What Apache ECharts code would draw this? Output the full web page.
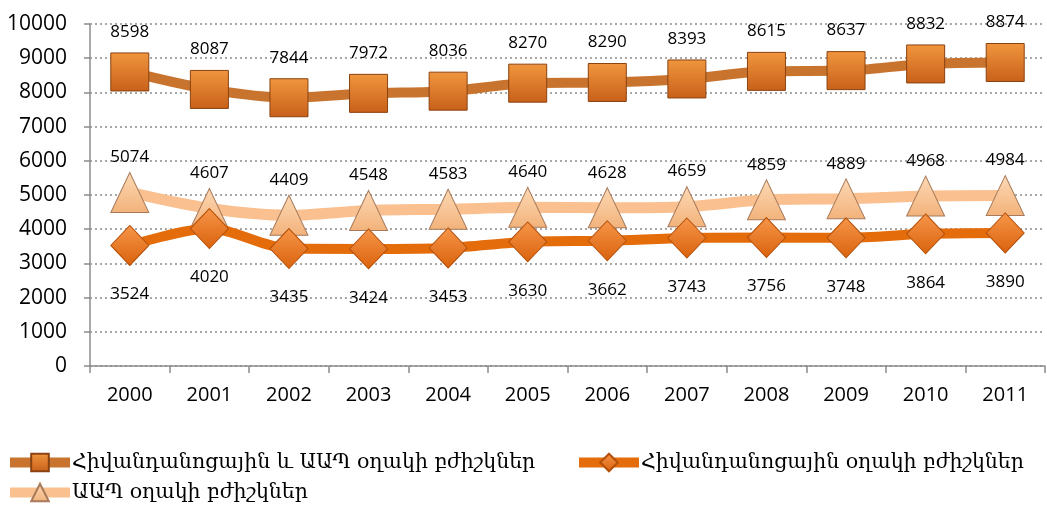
<!DOCTYPE html>
<html>
<head>
<meta charset="utf-8">
<script src="https://cdn.jsdelivr.net/npm/echarts@6/dist/echarts.min.js"></script>
<style>
  html, body { margin: 0; padding: 0; background: #fff; }
  #chart { width: 1047px; height: 506px; }
</style>
</head>
<body>
<div id="chart"></div>
<script>
// data
const years = ["2000", "2001", "2002", "2003", "2004", "2005", "2006", "2007", "2008", "2009", "2010", "2011"];
const totalDoctors = [8598, 8087, 7844, 7972, 8036, 8270, 8290, 8393, 8615, 8637, 8832, 8874];
const hospitalDoctors = [3524, 4020, 3435, 3424, 3453, 3630, 3662, 3743, 3756, 3748, 3864, 3890];
const clinicDoctors = [5074, 4607, 4409, 4548, 4583, 4640, 4628, 4659, 4859, 4889, 4968, 4984];

const names = [
  "Հիվանդանոցային և ԱԱՊ օղակի բժիշկներ",
  "Հիվանդանոցային օղակի բժիշկներ",
  "ԱԱՊ օղակի բժիշկներ"
];

const numFont = "'Open Sans', 'Liberation Sans', sans-serif";
const legendFont = "'DejaVu Serif', 'DejaVu Sans', serif";

function grad(top, bottom) {
  return new echarts.graphic.LinearGradient(0, 0, 0, 1, [
    { offset: 0, color: top },
    { offset: 1, color: bottom }
  ]);
}

function legendAt(name, left, top) {
  return {
    data: [name],
    left: left, top: top,
    padding: 0,
    itemWidth: 60, itemHeight: 22, itemGap: 0,
    lineStyle: { width: 10 },
    textStyle: { fontFamily: legendFont, fontSize: 20.5, color: "#000", padding: [0, 0, 0, -3] }
  };
}

const chart = echarts.init(document.getElementById("chart"));

chart.setOption({
  animation: false,
  grid: { left: 90, right: 2, top: 24, bottom: 140 },
  xAxis: {
    type: "category",
    data: years,
    axisLine: { lineStyle: { color: "#8c8c8c", width: 1.5 } },
    axisTick: { show: true, length: 7, lineStyle: { color: "#8c8c8c", width: 1.5 } },
    axisLabel: { color: "#000", fontSize: 20, fontFamily: numFont, margin: 19 }
  },
  yAxis: {
    type: "value",
    min: 0,
    max: 10000,
    interval: 1000,
    axisLine: { show: true, lineStyle: { color: "#8c8c8c", width: 1.5 } },
    axisTick: { show: true, length: 6, lineStyle: { color: "#8c8c8c", width: 1.5 } },
    axisLabel: { color: "#000", fontSize: 21, fontFamily: numFont, margin: 23, formatter: v => String(v) },
    splitLine: { lineStyle: { color: "#8c8c8c", type: [2, 3], width: 1.5 } }
  },
  legend: [
    legendAt(names[0], 5, 452),
    legendAt(names[1], 574, 452),
    legendAt(names[2], 5, 482)
  ],
  series: [
    {
      name: names[0],
      type: "line",
      data: totalDoctors,
      smooth: 0.3,
      symbol: "rect",
      symbolSize: 38,
      lineStyle: { color: "#C8742E", width: 10 },
      itemStyle: { color: grad("#F0963E", "#C8601A"), borderColor: "#8A4210", borderWidth: 1 },
      label: { show: true, position: "top", distance: 12, color: "#000", fontSize: 17, fontFamily: numFont },
      z: 3
    },
    {
      name: names[1],
      type: "line",
      data: hospitalDoctors,
      smooth: 0.3,
      symbol: "diamond",
      symbolSize: [38, 40],
      lineStyle: { color: "#E46C0A", width: 10 },
      itemStyle: { color: grad("#F7964A", "#D9620C"), borderColor: "#B4500A", borderWidth: 1 },
      label: { show: true, position: "bottom", distance: 20, color: "#000", fontSize: 17, fontFamily: numFont },
      z: 4
    },
    {
      name: names[2],
      type: "line",
      data: clinicDoctors,
      smooth: 0.3,
      symbol: "triangle",
      symbolSize: [38, 40],
      lineStyle: { color: "#FAC090", width: 11 },
      itemStyle: { color: grad("#FDD9B5", "#F2B27A"), borderColor: "#A67A5A", borderWidth: 1 },
      label: { show: true, position: "top", distance: 6, color: "#000", fontSize: 17, fontFamily: numFont },
      z: 3
    }
  ]
});
</script>
</body>
</html>
